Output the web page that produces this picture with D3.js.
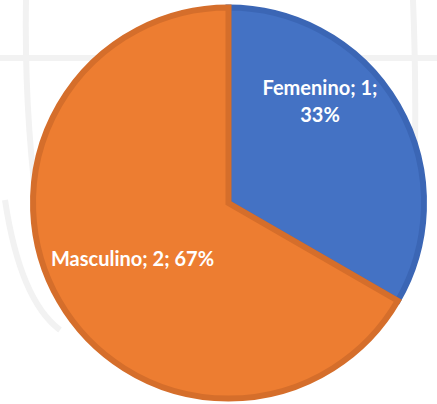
<!DOCTYPE html>
<html><head><meta charset="utf-8">
<script src="https://cdn.jsdelivr.net/npm/d3@7"></script>
<style>html,body{margin:0;padding:0;background:#fff;}svg{display:block;}</style>
</head><body>
<svg id="c" width="437" height="404"></svg>
<script>
const categories = ["Femenino", "Masculino"];
const values = [1, 2];
const percentLabels = ["33%", "67%"];
const fillColors = ["#4472C4", "#ED7D31"];
const strokeColors = ["#3B66B5", "#D56E2B"];

const svg = d3.select("#c");
const W = 437, H = 404;
const cx = 228.5, cy = 203, R = 198.5;

// faint background watermark (logo lines)
const wm = svg.append("g").attr("fill", "none").attr("stroke", "#f2f2f2").attr("stroke-width", 6);
wm.append("line").attr("x1", 0).attr("x2", W).attr("y1", 58).attr("y2", 58);
wm.append("path").attr("d", `M 26,0 Q 24,120 40,230`);
wm.append("path").attr("d", `M 413,0 Q 418,120 412,260`);
wm.append("path").attr("d", `M 5,200 Q 20,300 60,330`);

const pie = d3.pie().sort(null).value(d => d)(values);
const sw = 6;
const arc = d3.arc().innerRadius(0).outerRadius(R - sw / 2);

const g = svg.append("g").attr("transform", `translate(${cx},${cy})`);
g.selectAll("path.slice").data(pie).join("path")
  .attr("class", "slice")
  .attr("d", arc)
  .attr("fill", (d, i) => fillColors[i])
  .attr("stroke", (d, i) => strokeColors[i])
  .attr("stroke-width", sw)
  .attr("stroke-linejoin", "miter");

const font = "Lato, Carlito, 'Open Sans', sans-serif";
const labels = [
  [`${categories[0]}; ${values[0]};`, percentLabels[0]],
  [`${categories[1]}; ${values[1]}; ${percentLabels[1]}`]
];
const labelPos = [[91.5, -108], [-96, 63]];
pie.forEach((d, i) => {
  const t = g.append("text")
    .attr("font-family", font).attr("font-weight", "bold").attr("font-size", 20)
    .attr("fill", "#fff").attr("text-anchor", "middle");
  labels[i].forEach((ln, k) => {
    t.append("tspan").attr("x", labelPos[i][0]).attr("y", labelPos[i][1] + k * 27).text(ln);
  });
});
</script>
</body></html>
